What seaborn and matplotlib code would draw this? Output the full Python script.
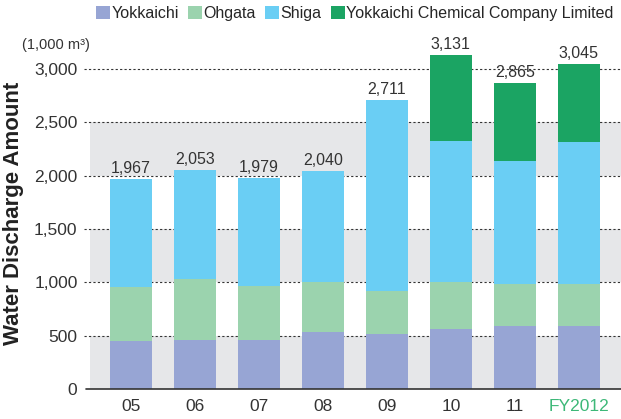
import matplotlib
matplotlib.use("Agg")
import matplotlib.pyplot as plt
import matplotlib.transforms as mtransforms
from matplotlib.patches import Patch
import seaborn as sns
import pandas as pd
import numpy as np

# data (1,000 m3)
years = ["05", "06", "07", "08", "09", "10", "11", "FY2012"]
yokkaichi = [450, 460, 460, 535, 516, 563, 591, 591]
ohgata = [504, 572, 506, 469, 403, 443, 397, 397]
shiga = [1013, 1021, 1013, 1036, 1792, 1320, 1151, 1329]
ycc = [0, 0, 0, 0, 0, 805, 726, 728]
totals = [1967, 2053, 1979, 2040, 2711, 3131, 2865, 3045]
series = ["Yokkaichi", "Ohgata", "Shiga", "Yokkaichi Chemical Company Limited"]
colors = ["#97A5D4", "#9BD3AE", "#6ACEF4", "#1BA463"]

sns.set_style("white")
plt.rcParams['font.family'] = ['Liberation Sans', 'DejaVu Sans']

df = pd.DataFrame({"year": years, "Yokkaichi": yokkaichi, "Ohgata": ohgata,
                   "Shiga": shiga, "YCC": ycc})
df["c1"] = df["Yokkaichi"]
df["c2"] = df["c1"] + df["Ohgata"]
df["c3"] = df["c2"] + df["Shiga"]
df["c4"] = df["c3"] + df["YCC"]

fig = plt.figure(figsize=(6.21, 4.19), dpi=100)
ax = fig.add_axes([90 / 621, 30 / 419, 531 / 621, 352 / 419])

# background bands
for lo in (0, 1000, 2000):
    ax.axhspan(lo, lo + 500, color="#E6E7E9", zorder=0, lw=0)

# dashed gridlines that poke out a little to the left
trans = mtransforms.blended_transform_factory(ax.transAxes, ax.transData)
for v in range(500, 3001, 500):
    ax.plot([-0.012, 1], [v, v], transform=trans, color="#333333", lw=0.8,
            ls=(0, (2, 2)), clip_on=False, zorder=1)
ax.plot([-0.008, 1], [0, 0], transform=trans, color="#333333", lw=1.2,
        clip_on=False, zorder=5)

# stacked bars, drawn tallest layer first
for col, c in zip(["c4", "c3", "c2", "c1"], colors[::-1]):
    sns.barplot(data=df, x="year", y=col, color=c, width=0.66, saturation=1,
                linewidth=0, ax=ax, zorder=3, order=years)

for i, t in enumerate(totals):
    ax.text(i, t + 30, f"{t:,}", ha="center", va="bottom", fontsize=11.5,
            color="#333333")

ax.set_xlim(-0.64, 7.66)
ax.set_ylim(0, 3300)
ax.set_yticks(range(0, 3001, 500))
ax.set_yticklabels([f"{v:,}" for v in range(0, 3001, 500)])
ax.set_xlabel("")
ax.set_ylabel("Water Discharge Amount", fontsize=16, fontweight="bold",
              color="#222222", labelpad=7)
ax.tick_params(axis="y", length=0, pad=9, labelsize=12.5, labelcolor="#333333")
ax.tick_params(axis="x", length=0, pad=7, labelsize=12.5, labelcolor="#333333")
ax.get_xticklabels()[-1].set_color("#3DB878")
for s in ax.spines.values():
    s.set_visible(False)

handles = [Patch(facecolor=c, edgecolor="none") for c in colors]
fig.legend(handles, series, loc="upper left", bbox_to_anchor=(96 / 621, 1 - 6 / 419),
           ncol=4, frameon=False, fontsize=11.5, handlelength=0.85, handleheight=0.85,
           handletextpad=0.1, columnspacing=0.6, borderaxespad=0, borderpad=0)
fig.text(22 / 621, 1 - 45 / 419, "(1,000 m³)", fontsize=10.5, color="#333333",
         va="center", ha="left")

fig.savefig("out.png", dpi=100)
